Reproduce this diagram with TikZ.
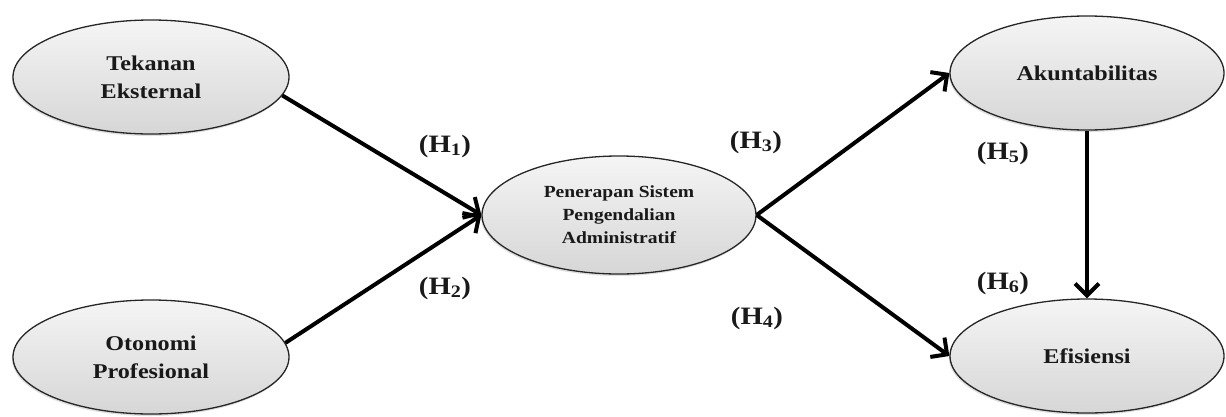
\documentclass[tikz,border=0pt]{standalone}
\usepackage{fontspec}
\setmainfont{Liberation Serif}
\newfontfamily\wideserif[FakeStretch=1.15]{Liberation Serif}
\usetikzlibrary{shapes.geometric,arrows.meta,shadows}
\begin{document}
\begin{tikzpicture}[x=1pt,y=-1pt,
  var/.style={ellipse,draw=black!85,line width=1.3pt,inner sep=0pt,
    minimum width=276pt,minimum height=114pt,
    top color=gray!8,bottom color=gray!32,
    drop shadow={shadow xshift=-1pt,shadow yshift=-2pt,opacity=0.25},
    align=center,font=\wideserif\bfseries\fontsize{21}{28}\selectfont,text=black!90},
  hyp/.style={font=\wideserif\bfseries\fontsize{25}{28}\selectfont,text=black!90},
  link/.style={line width=4pt,-{Straight Barb[length=12pt,width=24pt,line width=4pt]}}]
\useasboundingbox (0,0) rectangle (1226,416);
\node[var] (te) at (151,77) {Tekanan\\Eksternal};
\node[var] (op) at (151,357) {Otonomi\\Profesional};
\node[var,minimum width=274pt,minimum height=118pt,
  font=\wideserif\bfseries\fontsize{17}{23}\selectfont] (ps) at (619,215)
  {Penerapan Sistem\\Pengendalian\\Administratif};
\node[var,minimum width=274pt] (ak) at (1087,73) {Akuntabilitas};
\node[var,minimum width=274pt] (ef) at (1087,356) {Efisiensi};
\draw[link] (te.-8) -- (ps.west);
\draw[link] (op.6) -- (ps.west);
\draw[link] (ps.east) -- (ak.west);
\draw[link] (ps.east) -- (ef.west);
\draw[link] (ak.south) -- (ef.north);
\node[hyp] (h1) at (445,146) {(H\textsubscript{1})};
\node[hyp] (h2) at (445,288) {(H\textsubscript{2})};
\node[hyp] (h3) at (756,142) {(H\textsubscript{3})};
\node[hyp] (h4) at (757,318) {(H\textsubscript{4})};
\node[hyp] (h5) at (1003,153) {(H\textsubscript{5})};
\node[hyp] (h6) at (1003,283) {(H\textsubscript{6})};
\end{tikzpicture}
\end{document}
